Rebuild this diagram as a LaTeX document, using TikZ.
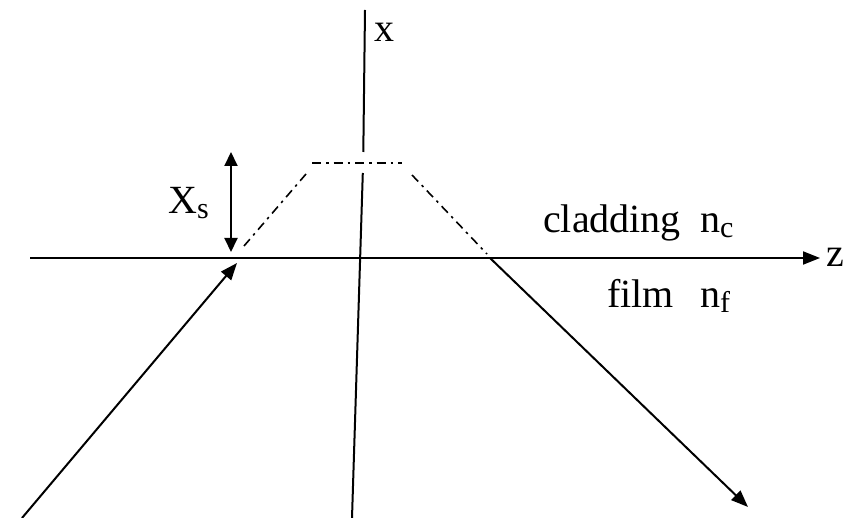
\documentclass[tikz,border=0pt]{standalone}
\usepackage{fontspec}
\setmainfont{Liberation Serif}
\usetikzlibrary{arrows.meta}
\newcommand{\mysub}[1]{\raisebox{-0.12em}{\fontsize{30}{32}\selectfont #1}}
\begin{document}
\begin{tikzpicture}[x=1pt,y=-1pt,
  axis/.style={line width=2pt},
  ray/.style={line width=2pt,-{Triangle[length=17pt,width=13pt]}},
  dd/.style={line width=1.6pt,dash pattern=on 9pt off 5pt on 2.5pt off 5pt},
  lbl/.style={inner sep=0pt,font=\fontsize{40}{44}\selectfont}]
\useasboundingbox (0,0) rectangle (849,518);
% axes
\coordinate (zl) at (30,258);
\coordinate (zr) at (820,258);
\draw[axis,-{Triangle[length=17pt,width=13pt]}] (zl) -- (zr);
\coordinate (xt) at (365,10);
\coordinate (xg1) at (363.3,152);
\coordinate (xg2) at (362.8,173);
\coordinate (xb) at (352,518);
\draw[axis] (xt) -- (xg1);
\draw[axis] (xg2) -- (xb);
\node[lbl,anchor=base west] (xlab) at (374,42) {x};
\node[lbl,anchor=base west] (zlab) at (826,267) {z};
% trapezoid
\coordinate (t1) at (312,163);
\coordinate (t2) at (402,163);
\coordinate (l1) at (306,174);
\coordinate (l2) at (244,246);
\coordinate (r1) at (412,175);
\coordinate (r2) at (487,254);
\draw[dd] (t1) -- (t2);
\draw[dd] (l1) -- (l2);
\draw[dd] (r1) -- (r2);
% xs arrow
\coordinate (xs1) at (231,152);
\coordinate (xs2) at (231,252);
\draw[line width=2pt,{Triangle[length=14pt,width=13pt]}-{Triangle[length=14pt,width=13pt]}] (xs1) -- (xs2);
\node[lbl,anchor=base west] (xslab) at (168,214) {X\mysub{s}};
% rays
\coordinate (a1) at (22,518);
\coordinate (a2) at (237,263);
\draw[ray] (a1) -- (a2);
\coordinate (b1) at (490,258);
\coordinate (b2) at (748,507);
\draw[ray] (b1) -- (b2);
% labels
\node[lbl,anchor=base west] (clad) at (543,233) {cladding};
\node[lbl,anchor=base west] (nc) at (700,233) {n\mysub{c}};
\node[lbl,anchor=base west] (film) at (607,308) {film};
\node[lbl,anchor=base west] (nf) at (700,308) {n\mysub{f}};
\end{tikzpicture}
\end{document}
